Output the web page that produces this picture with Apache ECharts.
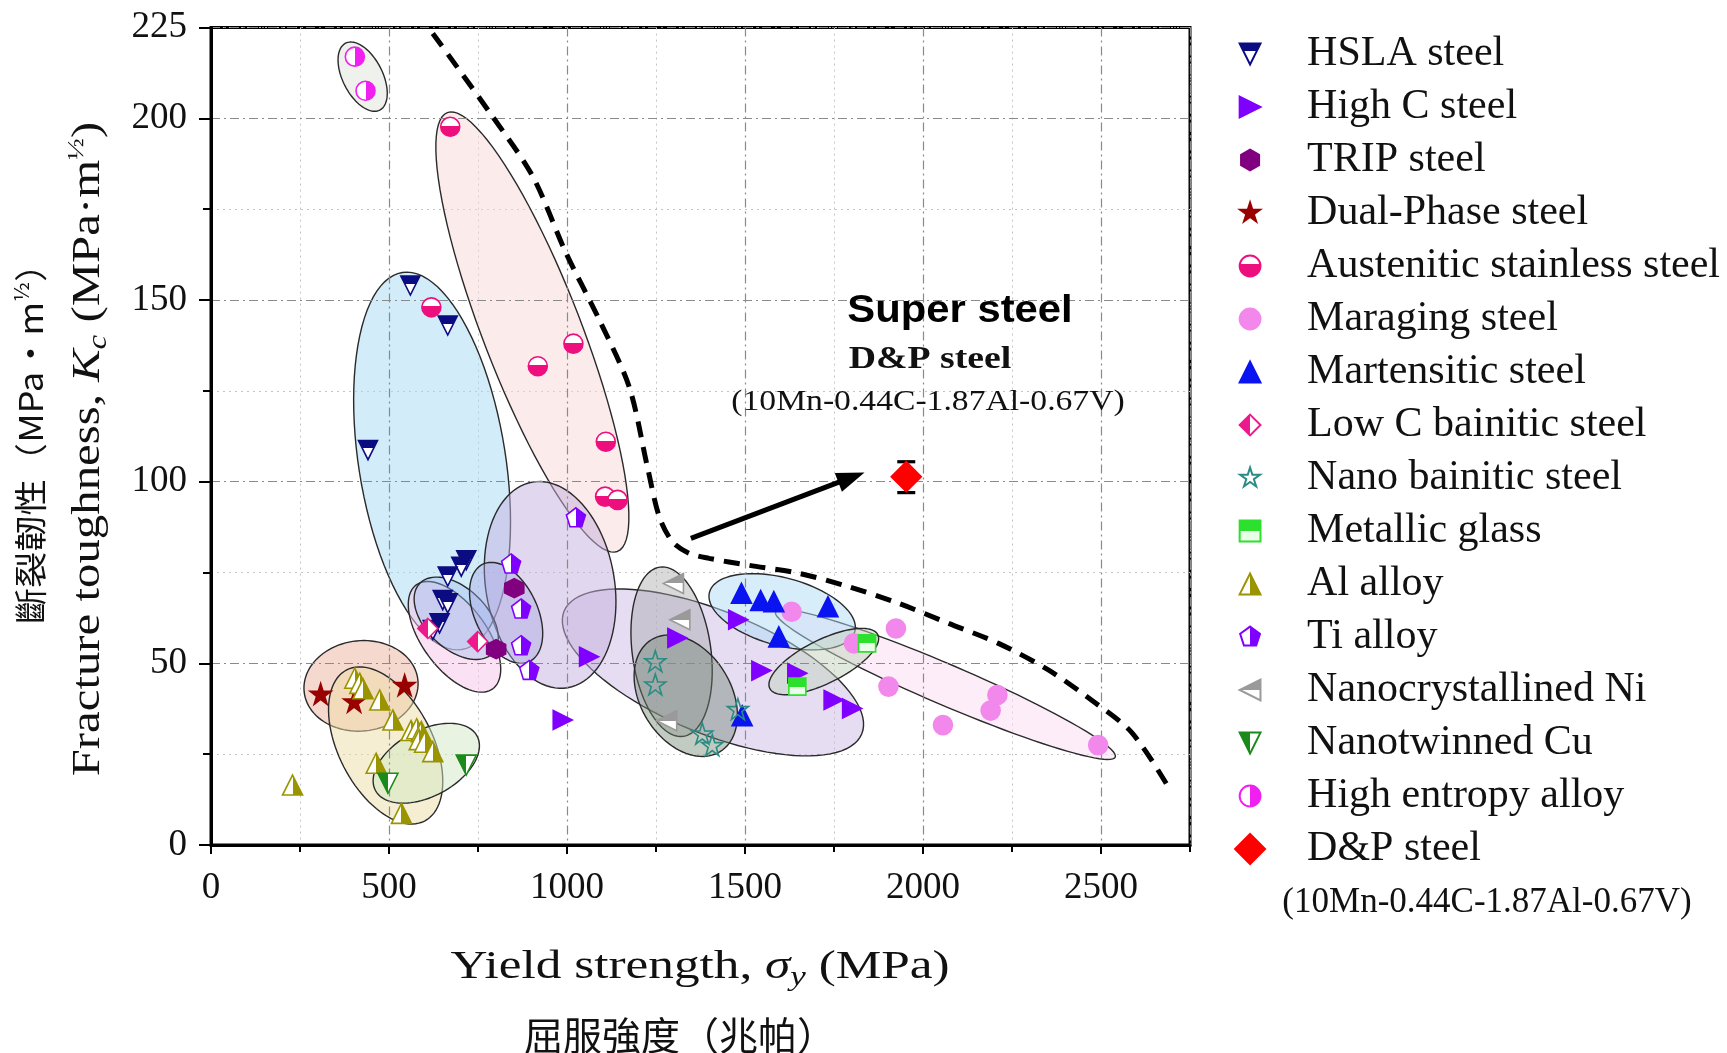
<!DOCTYPE html>
<html><head><meta charset="utf-8">
<script src="https://cdn.jsdelivr.net/npm/echarts@6/dist/echarts.min.js"></script>
<style>html,body{margin:0;padding:0;background:#fff}#c{width:1727px;height:1053px}</style>
</head><body><div id="c"></div>
<script>
// ---------------- data (yield strength MPa, fracture toughness MPa·m^1/2) ----------------
const xTicks = [0, 500, 1000, 1500, 2000, 2500];
const yTicks = [0, 50, 100, 150, 200, 225];
const hslaSteel = [[560,154],[665,143],[441,108.7],[717,78.4],[703,76.6],[665,73.9],[651,67.4],[665,66.5],[642,61],[623,59.2]];
const highCSteel = [[1062,51.8],[988,34.4],[1310,57],[1481,62],[1546,48],[1647,47.3],[1749,39.9],[1801,37.6]];
const tripSteel = [[852,70.7],[801,53.9]];
const dualPhaseSteel = [[308,41.6],[402,39.5],[544,44]];
const austeniticSteel = [[672,197.7],[619,148],[918,131.8],[1018,138],[1109,111],[1107,95.9],[1142,95]];
const maragingSteel = [[1631,64.2],[1924,59.6],[1806,55.5],[1903,43.6],[2056,33],[2209,41.3],[2190,37],[2492,27.5]];
const martensiticSteel = [[1490,69.3],[1544,67.3],[1581,67],[1733,65.6],[1595,57.3],[1492,35.6]];
const lowCBainiticSteel = [[609,59.6],[749,56]];
const nanoBainiticSteel = [[1248,50.6],[1248,44.2],[1380,30.7],[1408,27.5],[1480,37.4]];
const metallicGlass = [[1843,55.5],[1647,43.6]];
const alAlloy = [[229,16.5],[404,45.9],[418,44.5],[427,43],[474,39.9],[511,34.4],[562,31.5],[578,32],[591,31.2],[585,29],[600,28.3],[623,25.7],[464,22.5],[535,8.7]];
const tiAlloy = [[1025,90.2],[843,77.5],[871,65.1],[871,55],[894,48.2]];
const nanoNi = [[1299,72],[1317,62],[1280,34.2]];
const nanoCu = [[497,17],[717,22]];
const heAlloy = [[404,217],[434,207.6]];
const dpSteel = [[1953,101.4]];
const dpError = [[1953,97,105.5]];            // x, low, high
// property regions: centre x, centre y, major-axis tip x, tip y, minor/major ratio
const regions = [
  [426,211.5,474,202.3,0.53],      // high entropy
  [902.7,141.2,1141.6,80.8,0.208], // austenitic
  [621,105.7,704.5,53.8,0.385],    // HSLA
  [1410,47.5,1828,30.6,0.38],      // high C
  [2063,44.2,2540,24.2,0.11],      // maraging
  [952.6,71.6,1002,43.3,0.617],    // Ti
  [1604.4,64.2,1808.5,58.8,0.45],  // martensitic
  [1293.8,53.2,1326.6,29.9,0.46],  // nano Ni
  [1333.6,41.1,1430,25.7,0.69],    // nano bainitic
  [1721.3,50.5,1873,57.9,0.36],    // metallic glass
  [684,57.3,791.4,43,0.5],         // low C bainitic
  [688.8,62.4,791.4,52.8,0.6],     // HSLA sub
  [829,63.9,894.3,50.5,0.58],      // TRIP
  [421.4,43.8,581.2,45.4,0.79],    // dual phase
  [490.6,27.4,600,6.6,0.553],      // Al
  [604.7,22.5,747.4,30,0.574]      // Cu
];
const boundary = [[623,223.4],[791,200.5],[904,184],[997,163],[1091,144.5],[1175,126],[1226,104],[1259,90.4],[1296,83.5],[1343,80.3],[1399,78.9],[1511,77],[1651,74.8],[1791,71.1],[1932,66.5],[2072,61],[2212,55.5],[2352,48.2],[2473,39.9],[2586,31],[2689,16]];
const arrowLine = [[1348,84.4],[1799,101.2]];

// ---------------- styles ----------------
const regionFills = [
  'rgba(225,230,220,0.55)','rgba(250,215,215,0.5)','rgba(165,218,245,0.5)','rgba(200,180,228,0.45)',
  'rgba(252,222,244,0.55)','rgba(195,175,222,0.5)','rgba(175,222,245,0.5)','rgba(165,165,165,0.42)',
  'rgba(110,130,110,0.42)','rgba(195,212,190,0.5)','rgba(245,195,232,0.5)','rgba(160,190,238,0.4)',
  'rgba(165,165,228,0.4)','rgba(238,185,165,0.55)','rgba(235,222,165,0.5)','rgba(210,232,195,0.5)'
];
const SYM = {
  down: 'path://M0,0L100,0L50,100Z',
  up: 'path://M50,0L100,100L0,100Z',
  right: 'path://M0,0L100,50L0,100Z',
  left: 'path://M100,0L0,50L100,100Z',
  diamond: 'path://M50,0L100,50L50,100L0,50Z',
  square: 'path://M0,0L100,0L100,100L0,100Z',
  circle: 'path://M0,50A50,50,0,1,1,100,50A50,50,0,1,1,0,50Z',
  hexagon: 'path://M50,0L93.3,25L93.3,75L50,100L6.7,75L6.7,25Z',
  pentagon: 'path://M50,0L97.6,34.5L79.4,90.5L20.6,90.5L2.4,34.5Z',
  star: 'path://M50,0L61.2,34.5L97.6,34.5L68.2,55.9L79.4,90.5L50,69.1L20.6,90.5L31.8,55.9L2.4,34.5L38.8,34.5Z'
};
const LEGEND_PAD = ' M-22,-22 M122,122';   // invisible margin so ordinary legend icons stay smaller than the D&P one
function split(dir, a, b, stop) {
  const v = dir === 'v';
  return {type:'linear', x:0, y:0, x2:v?0:1, y2:v?1:0,
    colorStops:[{offset:0,color:a},{offset:stop,color:a},{offset:stop,color:b},{offset:1,color:b}]};
}
const SERIF = '"Liberation Serif","Times New Roman",serif';
const CJK = '"Noto Sans CJK TC","Noto Sans CJK SC",sans-serif';
const seriesDefs = [
  {name:'HSLA steel', data:hslaSteel, symbol:SYM.down, size:19, color:split('v','#0c0c82','#ffffff',0.42), border:'#0c0c82'},
  {name:'High C steel', data:highCSteel, symbol:SYM.right, size:19, color:'#8000ff', border:'#8000ff'},
  {name:'TRIP steel', data:tripSteel, symbol:SYM.hexagon, size:19, color:'#800080', border:'#800080'},
  {name:'Dual-Phase steel', data:dualPhaseSteel, symbol:SYM.star, size:21, color:'#990000', border:'#990000'},
  {name:'Austenitic stainless steel', data:austeniticSteel, symbol:SYM.circle, size:19, color:split('v','#ffffff','#ee0f7f',0.45), border:'#ee0f7f'},
  {name:'Maraging steel', data:maragingSteel, symbol:SYM.circle, size:19, color:'#f287ec', border:'#f287ec'},
  {name:'Martensitic steel', data:martensiticSteel, symbol:SYM.up, size:20, color:'#0a14f0', border:'#0a14f0'},
  {name:'Low C bainitic steel', data:lowCBainiticSteel, symbol:SYM.diamond, size:20, color:split('h','#ec1a8c','#ffffff',0.5), border:'#ec1a8c'},
  {name:'Nano bainitic steel', data:nanoBainiticSteel, symbol:SYM.star, size:21, color:'rgba(255,255,255,0)', border:'#2a8c84'},
  {name:'Metallic glass', data:metallicGlass, symbol:SYM.square, size:17, color:split('v','#2ee02e','#e8ffe8',0.5), border:'#2ee02e'},
  {name:'Al alloy', data:alAlloy, symbol:SYM.up, size:20, color:split('h','#ffffff','#9a9400',0.5), border:'#9a9400'},
  {name:'Ti alloy', data:tiAlloy, symbol:SYM.pentagon, size:19, color:split('h','#ffffff','#8000ff',0.5), border:'#8000ff'},
  {name:'Nanocrystallined Ni', data:nanoNi, symbol:SYM.left, size:20, color:split('v','#9a9a9a','#ffffff',0.5), border:'#9a9a9a'},
  {name:'Nanotwinned Cu', data:nanoCu, symbol:SYM.down, size:20, color:split('h','#1a8a1a','#ffffff',0.5), border:'#1a8a1a'},
  {name:'High entropy alloy', data:heAlloy, symbol:SYM.circle, size:19, color:split('h','#ffffff','#f020f0',0.5), border:'#f020f0'},
  {name:'D&P steel', data:dpSteel, symbol:SYM.diamond, size:30, color:'#ff0000', border:'#ff0000', bigIcon:true}
];

const chart = echarts.init(document.getElementById('c'), null, {renderer:'canvas'});

const ellipseSeries = {
  type:'custom', name:'regions', data:regions, silent:true, z:1,
  encode:{x:[0,2], y:[1,3]},
  renderItem:(p, api) => {
    const c = api.coord([api.value(0), api.value(1)]);
    const t = api.coord([api.value(2), api.value(3)]);
    const r = api.value(4);
    const ux = t[0]-c[0], uy = t[1]-c[1];
    const vx = -uy*r, vy = ux*r;
    const pts = [];
    for (let i = 0; i < 96; i++) {
      const a = i/96*2*Math.PI;
      pts.push([c[0]+ux*Math.cos(a)+vx*Math.sin(a), c[1]+uy*Math.cos(a)+vy*Math.sin(a)]);
    }
    return {type:'polygon', shape:{points:pts}, style:{fill:regionFills[p.dataIndex], stroke:'#2a2a2a', lineWidth:1.4}};
  }
};
const errSeries = {
  type:'custom', name:'dpError', data:dpError, silent:true, z:4,
  encode:{x:0, y:[1,2]},
  renderItem:(p, api) => {
    const x = api.value(0);
    const lo = api.coord([x, api.value(1)]);
    const hi = api.coord([x, api.value(2)]);
    const w = 9, st = {stroke:'#000', lineWidth:3.2};
    return {type:'group', children:[
      {type:'line', shape:{x1:lo[0],y1:lo[1],x2:hi[0],y2:hi[1]}, style:st},
      {type:'line', shape:{x1:lo[0]-w,y1:lo[1],x2:lo[0]+w,y2:lo[1]}, style:st},
      {type:'line', shape:{x1:hi[0]-w,y1:hi[1],x2:hi[0]+w,y2:hi[1]}, style:st}
    ]};
  }
};
const boundarySeries = {
  type:'line', name:'boundary', data:boundary, symbol:'none', smooth:0.3, z:3, silent:true,
  lineStyle:{color:'#000', width:5, type:[16,10]},
  markLine:{silent:true, symbol:['none','triangle'], symbolSize:[20,28], animation:false,
    lineStyle:{color:'#000', width:5, type:'solid'}, label:{show:false},
    data:[[{coord:arrowLine[0]},{coord:arrowLine[1]}]]}
};
const scatterSeries = seriesDefs.map(s => ({
  type:'scatter', name:s.name, data:s.data, symbol:s.symbol, symbolSize:s.size, z:5,
  itemStyle:{color:s.color, borderColor:s.border, borderWidth:1.6, opacity:1},
  emphasis:{disabled:true}
}));

const axisLabelStyle = {fontFamily:SERIF, fontSize:37, color:'#111', formatter:v => String(v)};
chart.setOption({
  animation:false,
  backgroundColor:'#fff',
  grid:{left:211, right:537, top:27.6, bottom:208, show:true, borderColor:'#000', borderWidth:3},
  xAxis:[
    {type:'value', min:xTicks[0], max:2750, interval:xTicks[1]-xTicks[0], z:2,
     axisLine:{show:true, onZero:false, lineStyle:{color:'#000', width:3}},
     axisTick:{show:true, length:9, lineStyle:{color:'#000', width:2}},
     axisLabel:Object.assign({margin:25, showMaxLabel:false}, axisLabelStyle),
     splitLine:{show:true, lineStyle:{color:'#8a8a8a', width:1.2, type:[9,4,2,4]}}},
    {type:'value', min:xTicks[0], max:2750, interval:250, position:'bottom', z:1,
     axisLine:{show:false}, axisLabel:{show:false},
     axisTick:{show:true, length:7, lineStyle:{color:'#000', width:2}},
     splitLine:{show:true, lineStyle:{color:['rgba(0,0,0,0)','#c4c4c4'], width:1, type:[2,4]}}}
  ],
  yAxis:[
    {type:'value', min:yTicks[0], max:yTicks[yTicks.length-1], interval:yTicks[1]-yTicks[0], z:2,
     axisLine:{show:true, onZero:false, lineStyle:{color:'#000', width:3}},
     axisTick:{show:true, length:12, lineStyle:{color:'#000', width:2}},
     axisLabel:Object.assign({margin:24}, axisLabelStyle),
     splitLine:{show:true, lineStyle:{color:'#8a8a8a', width:1.2, type:[9,4,2,4]}}},
    {type:'value', min:yTicks[0], max:yTicks[yTicks.length-1], interval:25, position:'left', z:1,
     axisLine:{show:false}, axisLabel:{show:false},
     axisTick:{show:true, length:8, lineStyle:{color:'#000', width:2}},
     splitLine:{show:true, lineStyle:{color:['rgba(0,0,0,0)','#c4c4c4'], width:1, type:[2,4]}}}
  ],
  legend:{
    orient:'vertical', right:7, top:32, padding:0, align:'left',
    itemWidth:104, itemHeight:30, itemGap:9,
    symbolKeepAspect:true, selectedMode:false,
    data:seriesDefs.map(s => ({name:s.name, icon: s.bigIcon ? s.symbol : s.symbol + LEGEND_PAD})),
    textStyle:{fontFamily:SERIF, fontSize:42, color:'#111', lineHeight:44}
  },
  graphic:[
    {type:'text', x:960, y:312, scaleX:1.1, z:10, silent:true,
     style:{text:'Super steel', fontFamily:'"Liberation Sans",Arial,sans-serif', fontWeight:'bold', fontSize:38, fill:'#000', align:'center', verticalAlign:'middle'}},
    {type:'text', x:930, y:360, scaleX:1.18, z:10, silent:true,
     style:{text:'D&P steel', fontFamily:SERIF, fontWeight:'bold', fontSize:32, fill:'#111', align:'center', verticalAlign:'middle'}},
    {type:'text', x:928, y:402, scaleX:1.16, z:10, silent:true,
     style:{text:'(10Mn-0.44C-1.87Al-0.67V)', fontFamily:SERIF, fontSize:29, fill:'#111', align:'center', verticalAlign:'middle'}},
    {type:'text', x:1487, y:903, z:10, silent:true,
     style:{text:'(10Mn-0.44C-1.87Al-0.67V)', fontFamily:SERIF, fontSize:35, fill:'#111', align:'center', verticalAlign:'middle'}},
    {type:'text', x:700, y:967, scaleX:1.25, z:10, silent:true,
     style:{text:'{r|Yield strength, }{i|σ}{s|y}{r| (MPa)}', align:'center', verticalAlign:'middle',
       rich:{r:{fontFamily:SERIF, fontSize:41, fill:'#111'}, i:{fontFamily:SERIF, fontSize:41, fontStyle:'italic', fill:'#111'},
             s:{fontFamily:SERIF, fontSize:28, fontStyle:'italic', fill:'#111', padding:[22,0,0,0]}}}},
    {type:'text', x:680, y:1035, z:10, silent:true,
     style:{text:'屈服強度（兆帕）', fontFamily:CJK, fontSize:39, fill:'#111', align:'center', verticalAlign:'middle'}},
    {type:'text', x:88, y:449, rotation:Math.PI/2, scaleX:1.22, z:10, silent:true,
     style:{text:'{r|Fracture toughness, }{i|K}{s|c}{r| (MPa·m}{p|½}{r|)}', align:'center', verticalAlign:'middle',
       rich:{r:{fontFamily:SERIF, fontSize:40, fill:'#111'}, i:{fontFamily:SERIF, fontSize:40, fontStyle:'italic', fill:'#111'},
             s:{fontFamily:SERIF, fontSize:27, fontStyle:'italic', fill:'#111', padding:[22,0,0,0]},
             p:{fontFamily:SERIF, fontSize:24, fill:'#111', padding:[0,0,22,0]}}}},
    {type:'text', x:30, y:435, rotation:Math.PI/2, scaleX:1.1, z:10, silent:true,
     style:{text:'{c|斷裂韌性（MPa·m}{p|½}{c|）}', align:'center', verticalAlign:'middle',
       rich:{c:{fontFamily:CJK, fontSize:33, fill:'#111'},
             p:{fontFamily:CJK, fontSize:20, fill:'#111', padding:[0,0,18,0]}}}}
  ],
  series:[ellipseSeries, boundarySeries, errSeries].concat(scatterSeries)
});
</script></body></html>
